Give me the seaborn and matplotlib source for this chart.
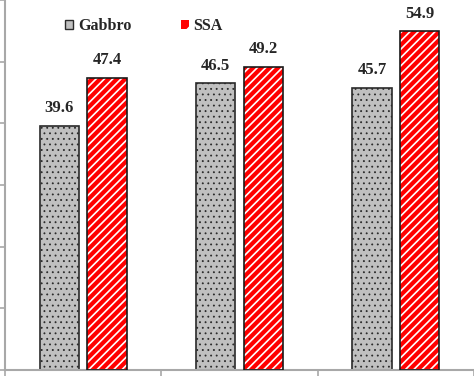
import matplotlib
matplotlib.use("Agg")
import matplotlib.pyplot as plt
import seaborn as sns
import pandas as pd
from matplotlib.patches import Patch, Rectangle

# data
groups = ["1", "2", "3"]
materials = ["Gabbro", "SSA"]
gabbro = [39.6, 46.5, 45.7]
ssa = [47.4, 49.2, 54.9]
yticks = [0, 10, 20, 30, 40, 50, 60]

df = pd.DataFrame({
    "group": groups * 2,
    "material": [materials[0]] * len(gabbro) + [materials[1]] * len(ssa),
    "value": gabbro + ssa,
})

sns.set_style("white")
plt.rcParams["font.family"] = ["Liberation Serif", "DejaVu Serif"]
plt.rcParams["hatch.linewidth"] = 1.2

grey = "#c0c0c0"
red = "#ff0000"
spine = "#a8a8a8"

fig = plt.figure(figsize=(4.74, 3.76), dpi=100)
ax = fig.add_axes([5 / 474, 6 / 376, 469 / 474, 370 / 376])

sns.barplot(data=df, x="group", y="value", hue="material", hue_order=materials,
            palette={materials[0]: grey, materials[1]: red}, saturation=1,
            width=0.61, gap=0.18, legend=False, ax=ax)

# Gabbro: grey with dark dots
for p in ax.containers[0]:
    p.set_hatch("...")
    p.set_edgecolor("#2a2a2a")
    p.set_linewidth(1.2)
    if hasattr(p, "set_hatch_linewidth"):
        p.set_hatch_linewidth(0.6)

# SSA: red with white stripes, black outline drawn on top
for p in ax.containers[1]:
    p.set_hatch("////")
    p.set_edgecolor("white")
    p.set_linewidth(0)
    ax.add_patch(Rectangle((p.get_x(), p.get_y()), p.get_width(), p.get_height(),
                           fill=False, edgecolor="#1a1a1a", linewidth=1.2, zorder=3))

for c in ax.containers:
    ax.bar_label(c, fmt="%.1f", padding=7, fontsize=12, fontweight="bold")

ax.set_ylim(0, 60)
ax.set_xlim(-0.5, len(groups) - 0.5)
ax.set_yticks(yticks)
ax.set_xticks([i - 0.5 for i in range(len(groups) + 1)])
ax.tick_params(axis="both", direction="out", length=6, width=1.2, color=spine,
               labelleft=False, labelbottom=False, left=True, bottom=True)
ax.set_xlabel("")
ax.set_ylabel("")
for side in ["top", "right"]:
    ax.spines[side].set_visible(False)
for side in ["left", "bottom"]:
    ax.spines[side].set_color(spine)
    ax.spines[side].set_linewidth(1.5)

handles = [
    Patch(facecolor=grey, edgecolor="#2a2a2a", hatch=".", linewidth=1.0),
    Patch(facecolor=red, edgecolor="white", hatch="//", linewidth=0),
]
leg = ax.legend(handles, materials, loc="upper left", bbox_to_anchor=(65 / 474, 1 - 18 / 376),
                bbox_transform=fig.transFigure, ncol=2, frameon=False,
                handlelength=0.5, handleheight=0.5, handletextpad=0.3,
                columnspacing=3.1, borderpad=0, borderaxespad=0,
                prop={"size": 11.5, "weight": "bold"})

fig.savefig("out.png", dpi=100)
